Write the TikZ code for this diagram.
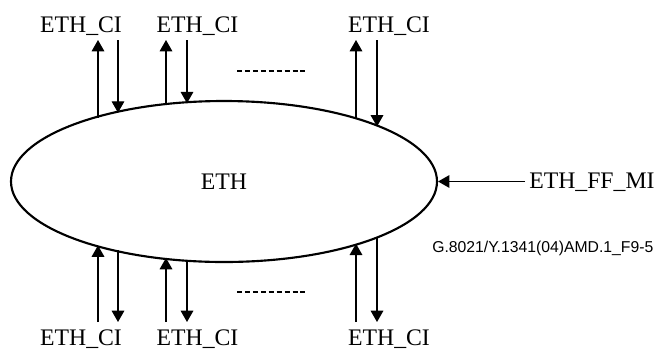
\documentclass[tikz,border=0pt]{standalone}
\usepackage{fontspec}
\setmainfont{Liberation Serif}
\newfontfamily\refsans{Liberation Sans}
\usetikzlibrary{shapes.geometric, arrows.meta}

\begin{document}
\begin{tikzpicture}[x=0.75pt, y=-0.75pt,
        lbl/.style={font=\fontsize{17.8}{20}\selectfont, inner sep=3pt},
        flow/.style={line width=0.8pt, -{Triangle[length=8.5pt,width=9.5pt]}},
        etc/.style={line width=1.5pt, dash pattern=on 3.75pt off 2.2pt}]
        \useasboundingbox (0,0) rectangle (656,351);

        % The ETH layer
        \node[draw, ellipse, line width=1.6pt, minimum width=319.5pt, minimum height=120.75pt,
              inner sep=0pt, font=\fontsize{17.8}{20}\selectfont] (eth) at (224,181.5) {ETH};

        % Points on the rim and free ends of the access arrows
        \foreach \x [count=\i] in {98,118,166,187,356,377} {
            \coordinate (top\i) at ({\x},{181.5-79.5*sqrt(1-((\x-224)/212)^2)});
            \coordinate (bot\i) at ({\x},{181.5+79.5*sqrt(1-((\x-224)/212)^2)});
            \coordinate (tend\i) at (\x,40);
            \coordinate (bend\i) at (\x,322);
        }

        % Access arrows above and below
        \foreach \i in {1,3,5} {
            \draw[flow] (top\i) -- (tend\i);
            \draw[flow] (bend\i) -- (bot\i);
        }
        \foreach \i in {2,4,6} {
            \draw[flow] (tend\i) -- (top\i);
            \draw[flow] (bot\i) -- (bend\i);
        }

        % Label the points
        \node[lbl, anchor=base] (citop1) at (81,32) {ETH\_CI};
        \node[lbl, anchor=base] (citop2) at (197.5,32) {ETH\_CI};
        \node[lbl, anchor=base] (citop3) at (389,32) {ETH\_CI};
        \node[lbl, anchor=base] (cibot1) at (81,345) {ETH\_CI};
        \node[lbl, anchor=base] (cibot2) at (197.5,345) {ETH\_CI};
        \node[lbl, anchor=base] (cibot3) at (389,345) {ETH\_CI};

        % More points in between
        \coordinate (dt1) at (237,71);
        \coordinate (dt2) at (305,71);
        \coordinate (db1) at (237,292);
        \coordinate (db2) at (305,292);
        \draw[etc] (dt1) -- (dt2);
        \draw[etc] (db1) -- (db2);

        % Management input
        \node[lbl, anchor=base west] (ffmi) at (525,188) {ETH\_FF\_MI};
        \draw[flow] (ffmi.west |- eth.east) -- (eth.east);

        % Figure id
        \node[anchor=base west, inner sep=0pt, font=\refsans\fontsize{11.8}{14}\selectfont]
            (figid) at (432,252) {G.8021/Y.1341(04)AMD.1\_F9-5};

    \end{tikzpicture}
\end{document}
